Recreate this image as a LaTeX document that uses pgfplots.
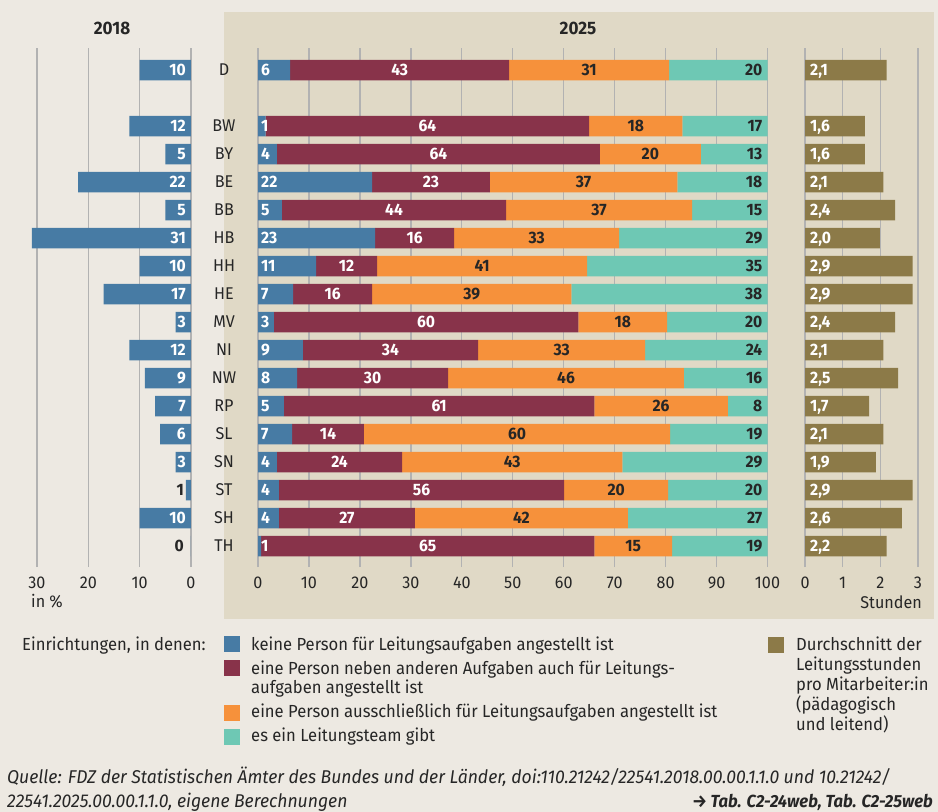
\documentclass[border=0pt]{standalone}
\usepackage{pgfplots}
\pgfplotsset{compat=1.18}
\usepackage{pgfplotstable}
\usepackage{fontspec}
\setmainfont{Fira Sans}[FakeStretch=0.95]

\definecolor{bg}{HTML}{EDE9E2}
\definecolor{panel}{HTML}{E0D9C6}
\definecolor{cblue}{HTML}{477BA4}
\definecolor{cred}{HTML}{88334A}
\definecolor{corange}{HTML}{F6913B}
\definecolor{cteal}{HTML}{6EC8B4}
\definecolor{cbrown}{HTML}{8C7A48}
\definecolor{gridc}{HTML}{B2B2B2}
\definecolor{txt}{HTML}{262626}

\newcommand{\fs}{\fontsize{17}{20}\selectfont}
\newcommand{\legf}{\fontsize{17.5}{20}\selectfont}
\newcommand{\lbl}{\fontsize{16.5}{20}\selectfont\bfseries}
\newcommand{\src}{\fontsize{18.5}{22}\selectfont\itshape}

\pgfplotstableread{
idx st y18 b r o t h lb lr lo lt lh
0 D 10 6.3 43.0 31.4 19.3 2.17 6 43 31 20 2,1
2 BW 12 1.5 63.5 18.3 16.7 1.59 1 64 18 17 1,6
3 BY 5 3.7 63.4 19.8 13.1 1.59 4 64 20 13 1,6
4 BE 22 22.4 23.1 36.8 17.7 2.08 22 23 37 18 2,1
5 BB 5 4.7 44.0 36.5 14.8 2.39 5 44 37 15 2,4
6 HB 31 23.0 15.5 32.4 29.1 1.99 23 16 33 29 2,0
7 HH 10 11.4 12.0 41.2 35.4 2.86 11 12 41 35 2,9
8 HE 17 6.9 15.5 39.1 38.5 2.86 7 16 39 38 2,9
9 MV 3 3.1 59.8 17.4 19.7 2.39 3 60 18 20 2,4
10 NI 12 8.8 34.4 32.8 24.0 2.08 9 34 33 24 2,1
11 NW 9 7.7 29.6 46.3 16.4 2.47 8 30 46 16 2,5
12 RP 7 5.1 60.9 26.2 7.8 1.70 5 61 26 8 1,7
13 SL 6 6.7 14.1 60.1 19.1 2.08 7 14 60 19 2,1
14 SN 3 3.7 24.6 43.2 28.5 1.88 4 24 43 29 1,9
15 ST 1 4.1 56.0 20.4 19.5 2.86 4 56 20 20 2,9
16 SH 10 4.1 26.7 41.8 27.4 2.57 4 27 42 27 2,6
17 TH 0 0.6 65.4 15.3 18.7 2.17 1 65 15 19 2,2
}\data

\pgfplotsset{
  rowgeom/.style={scale only axis, height=519pt, ymin=-17.75, ymax=0.786,
    clip=false, axis line style={draw=none}, major tick length=0pt,
    ytick=\empty},
  gridax/.style={rowgeom, xmajorgrids, grid style={gridc, line width=1.3pt},
    xticklabel style={anchor=base, yshift=-21pt, font=\fs, text=txt},
    /pgf/number format/assume math mode=true},
  lab/.style={draw=none, mark=none, nodes near coords, point meta=explicit symbolic,
    every node near coord/.append style={inner sep=0pt, text depth=0pt, font=\lbl, #1}},
}

\begin{document}
\begin{tikzpicture}
\fill[bg] (0pt,0pt) rectangle (938pt,-812pt);
\fill[panel] (224pt,-12pt) rectangle (934pt,-619pt);

% ---- 2018 ----
\begin{axis}[gridax, at={(191pt,-48pt)}, anchor=north east, width=164.3pt,
  xmin=0, xmax=32, x dir=reverse, xtick={0,10,20,30}]
\addplot[xbar, bar width=20.5pt, fill=cblue, draw=none]
  table[x=y18, y expr=-\thisrow{idx}]{\data};
\addplot[lab={anchor=east, xshift=-5pt, text=white}]
  table[x expr={\thisrow{y18}>2 ? 0 : nan}, y expr=-\thisrow{idx}, meta=y18]{\data};
\addplot[lab={anchor=east, xshift=-7pt, text=txt}]
  table[x expr={\thisrow{y18}>2 ? nan : 0}, y expr=-\thisrow{idx}, meta=y18]{\data};
\end{axis}

% ---- 2025 ----
\begin{axis}[gridax, at={(258pt,-48pt)}, anchor=north west, width=509.5pt,
  xmin=0, xmax=100, xtick={0,10,...,100}, xbar stacked, bar width=20.5pt,
  ytick={0,-2,-3,-4,-5,-6,-7,-8,-9,-10,-11,-12,-13,-14,-15,-16,-17},
  yticklabels={D,BW,BY,BE,BB,HB,HH,HE,MV,NI,NW,RP,SL,SN,ST,SH,TH},
  yticklabel style={anchor=center, xshift=-34pt, font=\fs, text=txt}]
\addplot[fill=cblue, draw=none] table[x=b, y expr=-\thisrow{idx}]{\data};
\addplot[fill=cred, draw=none] table[x=r, y expr=-\thisrow{idx}]{\data};
\addplot[fill=corange, draw=none] table[x=o, y expr=-\thisrow{idx}]{\data};
\addplot[fill=cteal, draw=none] table[x=t, y expr=-\thisrow{idx}]{\data};
\end{axis}
\begin{axis}[rowgeom, hide axis, at={(258pt,-48pt)}, anchor=north west, width=509.5pt,
  xmin=0, xmax=100]
\addplot[lab={anchor=west, xshift=3pt, text=white}]
  table[x expr=0, y expr=-\thisrow{idx}, meta=lb]{\data};
\addplot[lab={anchor=center, text=white}]
  table[x expr=\thisrow{b}+\thisrow{r}/2, y expr=-\thisrow{idx}, meta=lr]{\data};
\addplot[lab={anchor=center, text=txt}]
  table[x expr=\thisrow{b}+\thisrow{r}+\thisrow{o}/2, y expr=-\thisrow{idx}, meta=lo]{\data};
\addplot[lab={anchor=east, xshift=-5pt, text=txt}]
  table[x expr=\thisrow{b}+\thisrow{r}+\thisrow{o}+\thisrow{t}, y expr=-\thisrow{idx}, meta=lt]{\data};
\end{axis}

% ---- Stunden ----
\begin{axis}[gridax, at={(805pt,-48pt)}, anchor=north west, width=113pt,
  xmin=0, xmax=3, xtick={0,1,2,3}]
\addplot[xbar, bar width=20.5pt, fill=cbrown, draw=none]
  table[x=h, y expr=-\thisrow{idx}]{\data};
\addplot[lab={anchor=west, xshift=5pt, text=white}]
  table[x expr=0, y expr=-\thisrow{idx}, meta=lh]{\data};
\end{axis}

% titles and unit labels
\begin{scope}[every node/.style={inner sep=0pt, text=txt}]
\node[anchor=base, font=\fontsize{18}{20}\selectfont\bfseries] at (112pt,-34.3pt) {2018};
\node[anchor=base, font=\fontsize{18}{20}\selectfont\bfseries] at (578pt,-34.3pt) {2025};
\node[anchor=base west, font=\fs] at (31pt,-607pt) {in \%};
\node[anchor=base east, font=\fs] at (922pt,-608pt) {Stunden};

% legend
\node[anchor=base west, font=\legf] at (22pt,-650pt) {Einrichtungen, in denen:};
\fill[cblue] (224pt,-636pt) rectangle (240pt,-652pt);
\node[anchor=base west, font=\legf] at (251pt,-650pt) {keine Person für Leitungsaufgaben angestellt ist};
\fill[cred] (224pt,-660pt) rectangle (240pt,-676pt);
\node[anchor=base west, font=\legf] at (251pt,-674.3pt) {eine Person neben anderen Aufgaben auch für Leitungs-};
\node[anchor=base west, font=\legf] at (251pt,-693.5pt) {aufgaben angestellt ist};
\fill[corange] (224pt,-705pt) rectangle (240pt,-721pt);
\node[anchor=base west, font=\legf] at (251pt,-717.7pt) {eine Person ausschließlich für Leitungsaufgaben angestellt ist};
\fill[cteal] (224pt,-729pt) rectangle (240pt,-745pt);
\node[anchor=base west, font=\legf] at (251pt,-741pt) {es ein Leitungsteam gibt};

\fill[cbrown] (768pt,-637pt) rectangle (784pt,-653pt);
\node[anchor=base west, font=\legf] at (796pt,-650.7pt) {Durchschnitt der};
\node[anchor=base west, font=\legf] at (796pt,-670.7pt) {Leitungsstunden};
\node[anchor=base west, font=\legf] at (796pt,-690.7pt) {pro Mitarbeiter:in};
\node[anchor=base west, font=\legf] at (796pt,-710.7pt) {(pädagogisch};
\node[anchor=base west, font=\legf] at (796pt,-730.7pt) {und leitend)};

% source
\node[anchor=base west, font=\src] at (7pt,-783.3pt) {Quelle: FDZ der Statistischen Ämter des Bundes und der Länder, doi:110.21242/22541.2018.00.00.1.1.0 und 10.21242/};
\node[anchor=base west, font=\src] at (7pt,-807.7pt) {22541.2025.00.00.1.1.0, eigene Berechnungen};
\node[anchor=base east, font=\fontsize{17.5}{22}\selectfont\itshape\bfseries] at (933pt,-807.7pt) {→ Tab. C2-24web, Tab. C2-25web};
\end{scope}

\pgfresetboundingbox
\useasboundingbox (0pt,0pt) rectangle (938pt,-812pt);
\end{tikzpicture}
\end{document}
